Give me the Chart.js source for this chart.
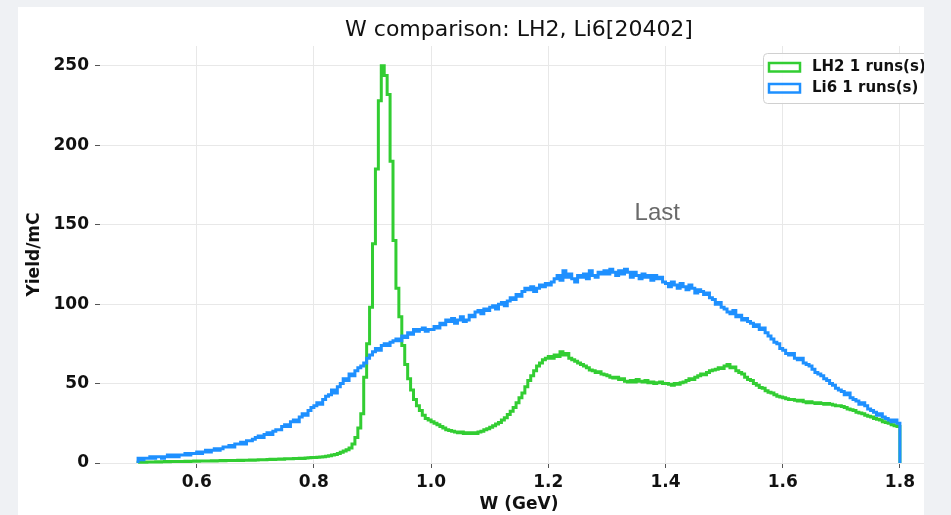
<!DOCTYPE html>
<html>
<head>
<meta charset="utf-8">
<script src="https://cdn.jsdelivr.net/npm/chart.js@4.4.1/dist/chart.umd.min.js"></script>
<style>
  html, body { margin: 0; padding: 0; background: #eff1f4; }
  #panel { position: absolute; left: 18px; top: 7px; width: 906px; height: 508px; background: #fff; overflow: hidden; }
  #panel canvas { position: absolute; left: 0; top: 0; }
</style>
</head>
<body>
<div id="panel"><canvas id="myChart" width="1002" height="508"></canvas></div>
<script>
const titleText = "W comparison: LH2, Li6[20402]";
const xTitle = "W (GeV)";
const yTitle = "Yield/mC";
const noteText = "Last";
const notePos = { x: 1.386, y: 157 };

// histogram bins: 0.5 .. 1.8 GeV, 0.005 wide
const binStart = 0.5;
const binWidth = 0.005;

const lh2Label = "LH2 1 runs(s)";
const lh2Values = [
  0.5, 0.6, 0.5, 0.7, 0.6, 0.7, 0.8, 0.7, 0.8, 0.9, 0.8, 0.9, 1.0, 0.9, 1.0, 1.0, 1.1, 1.0, 1.1, 1.2,
  1.1, 1.2, 1.3, 1.2, 1.3, 1.4, 1.3, 1.4, 1.5, 1.4, 1.5, 1.6, 1.5, 1.6, 1.7, 1.6, 1.7, 1.8, 1.9, 1.8,
  1.9, 2.0, 2.1, 2.0, 2.2, 2.3, 2.2, 2.4, 2.5, 2.4, 2.6, 2.7, 2.6, 2.8, 2.9, 3.0, 2.9, 3.1, 3.3, 3.4,
  3.5, 3.6, 3.8, 4.0, 4.2, 4.5, 5.0, 5.4, 6.0, 6.8, 7.6, 8.4, 9.5, 12, 16, 22, 31, 54, 75, 98,
  138, 185, 228, 250, 244, 232, 190, 140, 110, 92, 74, 62, 53, 46, 40, 36, 33, 30, 28, 27,
  26, 25, 24, 23, 22, 21, 20.5, 20, 19.5, 19, 19.5, 18.5, 19, 18.5, 19, 18.5, 19.5, 20, 21, 21.5,
  22.5, 23.5, 24.5, 25.5, 27, 28.5, 30.5, 32.5, 35, 38, 41, 44, 48, 52, 55, 58, 61, 63, 65, 66,
  67, 66, 68, 67, 70, 68, 69, 66, 65, 64, 63, 62, 61, 60, 58.5, 58, 57, 57.5, 56, 55.5,
  55, 54, 53.5, 54, 52.5, 53, 51.5, 51, 52, 51, 52.5, 51.5, 51, 52, 50.5, 51, 50, 50.5, 51, 50,
  50, 49.5, 49, 50, 49.5, 50.5, 51, 52, 53, 52.5, 54, 55, 56, 55.5, 57, 58, 58.5, 59, 60, 59.5,
  61, 62, 60, 60.5, 58, 57, 56, 54, 52.5, 52, 50, 49, 47.5, 47, 45.5, 44.5, 44, 43, 42, 41.5,
  41, 40.5, 40, 40, 39.5, 39, 39.5, 38.5, 38, 38.5, 38, 37.5, 38, 37.5, 37, 37.5, 37, 36.5, 36, 36,
  35.5, 35, 34, 33.5, 33, 32, 31.5, 31, 30, 29.5, 29, 28, 27.5, 27, 26, 25.5, 25, 24, 23.5, 23
];

const li6Label = "Li6 1 runs(s)";
const li6Values = [
  3, 2, 3, 3, 4, 3, 4, 4, 3, 4, 5, 4, 5, 4, 5, 5, 6, 5, 6, 6,
  7, 6, 7, 8, 7, 8, 9, 8, 9, 10, 10, 11, 10, 12, 12, 13, 12, 14, 14, 15,
  16, 17, 16, 18, 19, 18, 20, 21, 21, 23, 24, 23, 26, 27, 26, 29, 31, 30, 33, 35,
  36, 38, 37, 40, 42, 43, 46, 44, 48, 50, 53, 52, 56, 55, 58, 60, 61, 63, 66, 68,
  70, 72, 71, 74, 75, 74, 76, 77, 78, 77, 80, 79, 82, 81, 84, 83, 84, 85, 83, 84,
  84, 86, 85, 88, 87, 90, 89, 91, 88, 90, 92, 89, 90, 93, 92, 95, 96, 94, 97, 96,
  98, 99, 97, 100, 101, 99, 102, 104, 103, 106, 105, 108, 110, 109, 111, 108, 110, 112, 111, 113,
  112, 114, 116, 118, 115, 121, 117, 119, 116, 114, 118, 117, 119, 116, 121, 118, 117, 120, 119, 121,
  119, 122, 120, 118, 121, 119, 122, 120, 117, 120, 118, 116, 119, 117, 118, 115, 118, 116, 117, 114,
  113, 111, 114, 112, 110, 113, 111, 109, 112, 110, 107, 109, 108, 106, 107, 104, 103, 100, 101, 98,
  97, 95, 94, 96, 92, 93, 90, 91, 89, 88, 86, 87, 84, 85, 82, 80, 78, 76, 75, 72,
  71, 69, 68, 69, 66, 65, 66, 63, 62, 61, 59, 57, 56, 55, 53, 52, 50, 49, 47, 46,
  45, 43, 44, 41, 40, 39, 37, 38, 36, 34, 33, 32, 30, 31, 29, 28, 27, 26, 27, 25
];

const xTicks = [0.6, 0.8, 1.0, 1.2, 1.4, 1.6, 1.8];
const yTicks = [0, 50, 100, 150, 200, 250];

const FONT = "'DejaVu Sans', sans-serif";

// step outline: up from 0 at the first edge, down to 0 at the last edge
function histPoints(values) {
  const pts = [{ x: binStart, y: 0 }];
  values.forEach((v, i) => pts.push({ x: binStart + i * binWidth, y: v }));
  pts.push({ x: binStart + values.length * binWidth, y: 0 });
  return pts;
}

const boxLegend = {
  id: "boxLegend",
  afterDatasetsDraw(chart) {
    const { ctx, chartArea } = chart;
    const w = 170, h = 50;
    const left = chartArea.right - 5 - w;
    const top = chartArea.top + 7;
    ctx.save();
    ctx.beginPath();
    if (ctx.roundRect) ctx.roundRect(left + 0.5, top + 0.5, w, h, 4);
    else ctx.rect(left + 0.5, top + 0.5, w, h);
    ctx.fillStyle = "rgba(255,255,255,0.9)";
    ctx.fill();
    ctx.strokeStyle = "#d0d0d0";
    ctx.lineWidth = 1;
    ctx.stroke();
    chart.data.datasets.forEach((ds, i) => {
      const y = top + 10 + i * 21;
      ctx.lineWidth = 2.5;
      ctx.strokeStyle = ds.borderColor;
      ctx.strokeRect(left + 6, y, 31, 8.5);
      ctx.fillStyle = "#111";
      ctx.font = "bold 15px " + FONT;
      ctx.textBaseline = "middle";
      ctx.textAlign = "left";
      ctx.fillText(ds.label, left + 49, y + 4.5);
    });
    ctx.restore();
  }
};

const note = {
  id: "note",
  afterDatasetsDraw(chart) {
    const { ctx, scales } = chart;
    ctx.save();
    ctx.font = "24px 'Liberation Sans', Arial, sans-serif";
    ctx.fillStyle = "#6a6a6a";
    ctx.textAlign = "center";
    ctx.textBaseline = "middle";
    ctx.fillText(noteText, scales.x.getPixelForValue(notePos.x), scales.y.getPixelForValue(notePos.y));
    ctx.restore();
  }
};

const data = {
  datasets: [
    {
      label: lh2Label,
      data: histPoints(lh2Values),
      borderColor: "#32cd32",
      borderWidth: 3,
      stepped: "before",
      pointRadius: 0,
      fill: false,
      clip: false,
      order: 1
    },
    {
      label: li6Label,
      data: histPoints(li6Values),
      borderColor: "#1e90ff",
      borderWidth: 3,
      stepped: "before",
      pointRadius: 0,
      fill: false,
      clip: false,
      order: 0
    }
  ]
};

const tickFont = { family: FONT, size: 17, weight: "bold" };

const config = {
  type: "line",
  data: data,
  options: {
    responsive: false,
    animation: false,
    devicePixelRatio: 1,
    layout: { padding: { left: 0, right: 82, top: 0, bottom: 0 } },
    plugins: {
      legend: { display: false },
      tooltip: { enabled: false },
      title: {
        display: true,
        fullSize: false,
        text: titleText,
        color: "#111",
        font: { family: FONT, size: 22, weight: "normal", lineHeight: 1.2 },
        padding: { top: 10, bottom: 2.6 }
      }
    },
    scales: {
      x: {
        type: "linear",
        min: 0.435,
        max: 1.865,
        border: { display: false },
        grid: { color: "#e8e8e8", tickColor: "#555", tickLength: 5 },
        ticks: {
          font: tickFont,
          color: "#111",
          padding: 4,
          maxRotation: 0,
          autoSkip: false,
          callback: (v) => v.toFixed(1)
        },
        afterBuildTicks: (s) => { s.ticks = xTicks.map((v) => ({ value: v })); },
        afterFit: (s) => { s.height = 52; },
        title: { display: true, text: xTitle, color: "#111", font: tickFont, padding: { top: 0, bottom: 0 } }
      },
      y: {
        min: 0,
        max: 262.5,
        border: { display: false },
        grid: { color: "#e8e8e8", tickColor: "#555", tickLength: 5 },
        ticks: { font: tickFont, color: "#111", padding: 6 },
        afterBuildTicks: (s) => { s.ticks = yTicks.map((v) => ({ value: v })); },
        afterFit: (s) => { s.width = 82; },
        title: { display: true, text: yTitle, color: "#111", font: tickFont, padding: { top: 6, bottom: 0 } }
      }
    }
  },
  plugins: [boxLegend, note]
};

new Chart(document.getElementById("myChart").getContext("2d"), config);
</script>
</body>
</html>
